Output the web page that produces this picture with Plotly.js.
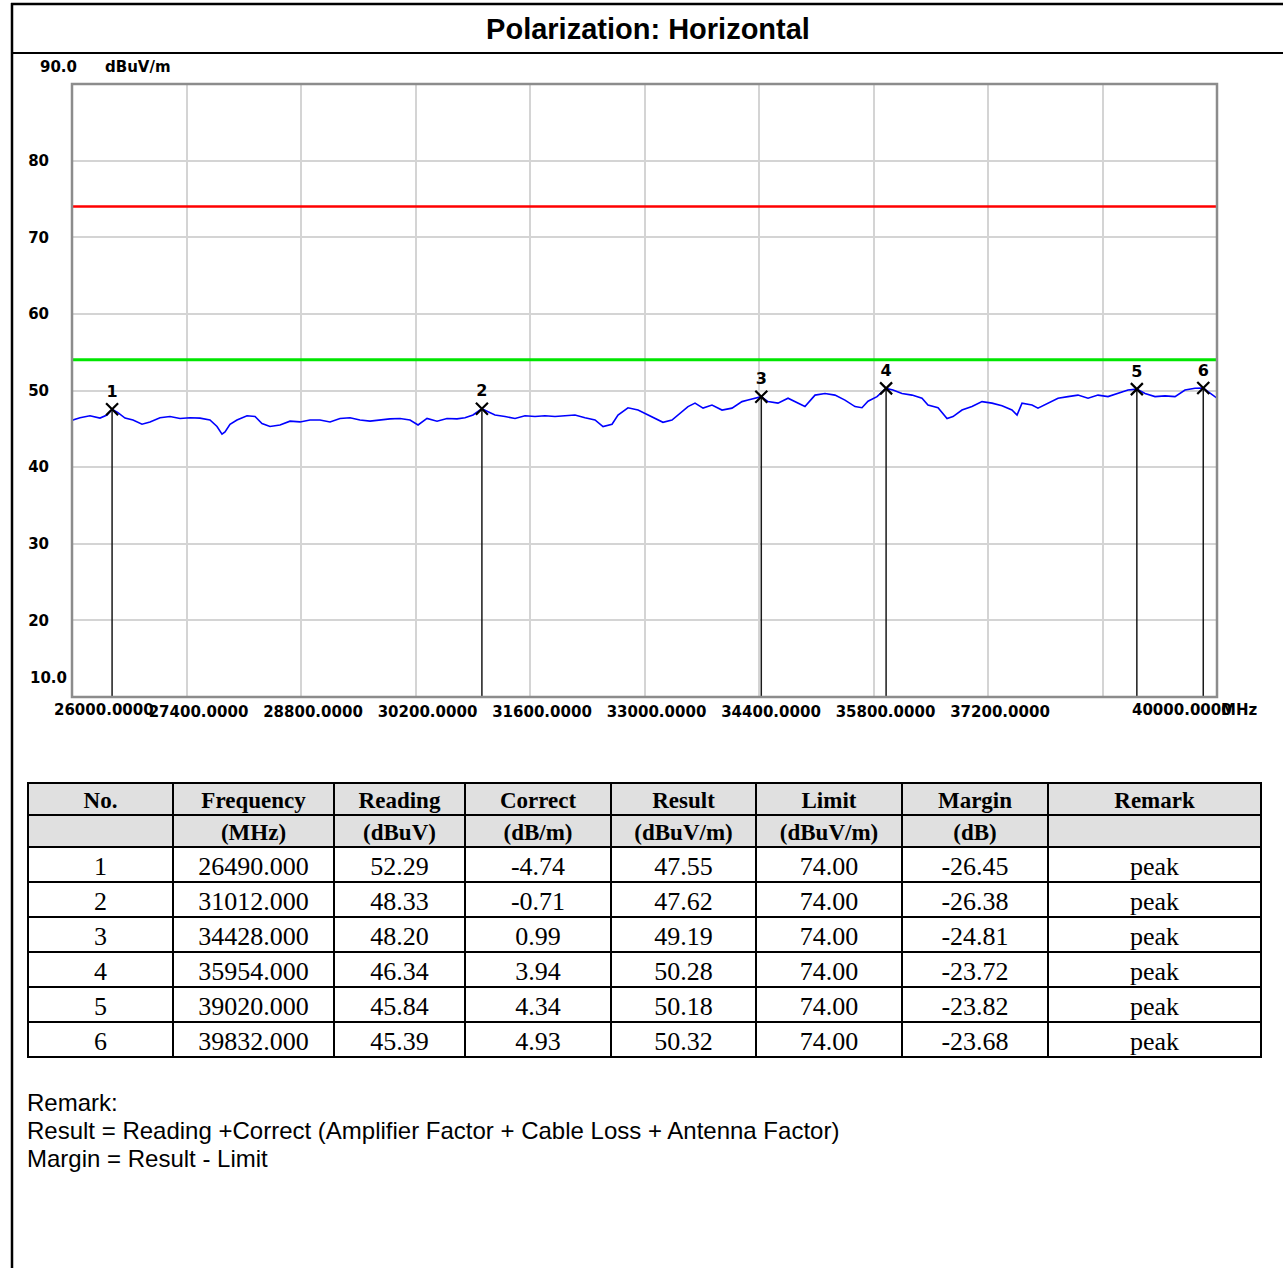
<!DOCTYPE html>
<html>
<head>
<meta charset="utf-8">
<script src="https://cdn.plot.ly/plotly-3.0.1.min.js"></script>
<style>
html,body{margin:0;padding:0;background:#fff;}
#chart{width:1283px;height:1268px;}
</style>
</head>
<body>
<div id="chart"></div>
<script>
// ---- spectrum trace (MHz, dBuV/m) ----
const traceFreq = [26000,26012,26098,26220,26342,26428,26490,26562,26648,26746,26856,26954,27076,27198,27321,27443,27565,27687,27773,27834,27871,27932,28017,28140,28238,28323,28421,28543,28666,28788,28910,29032,29155,29277,29399,29521,29644,29766,29888,30010,30133,30231,30341,30463,30585,30707,30805,30903,31012,31074,31172,31294,31417,31539,31661,31783,31906,32028,32150,32272,32395,32493,32603,32676,32798,32921,33031,33128,33226,33336,33459,33532,33618,33716,33825,33948,34070,34192,34266,34428,34510,34632,34755,34877,34962,35085,35207,35329,35451,35574,35659,35733,35843,35954,36038,36148,36271,36393,36466,36589,36699,36772,36882,37004,37127,37249,37371,37493,37555,37616,37738,37811,37934,38056,38178,38300,38423,38545,38667,38789,38912,39020,39120,39242,39364,39487,39609,39731,39832,39890,40000];
const traceLevel = [46.0,46.15,46.45,46.7,46.4,46.8,47.55,47.1,46.4,46.15,45.6,45.9,46.45,46.6,46.35,46.45,46.4,46.15,45.3,44.3,44.6,45.6,46.15,46.7,46.6,45.7,45.3,45.5,46.0,45.9,46.15,46.15,45.9,46.35,46.45,46.15,46.0,46.15,46.3,46.35,46.15,45.5,46.35,46.0,46.35,46.3,46.45,46.8,47.62,47.3,46.8,46.6,46.35,46.7,46.6,46.7,46.6,46.7,46.8,46.45,46.15,45.3,45.6,46.8,47.75,47.45,46.9,46.35,45.85,46.15,47.25,47.9,48.35,47.7,48.1,47.45,47.7,48.55,48.75,49.19,48.55,48.35,49.0,48.35,47.9,49.4,49.6,49.4,48.75,47.9,47.75,48.6,49.2,50.28,50.07,49.6,49.4,49.0,48.1,47.75,46.35,46.6,47.45,47.9,48.55,48.35,48.0,47.45,46.8,48.35,48.1,47.7,48.35,49.0,49.2,49.4,49.0,49.4,49.2,49.6,50.07,50.18,49.6,49.2,49.3,49.2,50.07,50.3,50.32,49.85,49.0];

// ---- limit lines ----
const limitFreq = [26000, 40000];
const limitRed = [74, 74];
const limitGreen = [54, 54];

// ---- marker table ----
const markerNo = [1, 2, 3, 4, 5, 6];
const markerFreq = [26490.000, 31012.000, 34428.000, 35954.000, 39020.000, 39832.000];
const markerReading = [52.29, 48.33, 48.20, 46.34, 45.84, 45.39];
const markerCorrect = [-4.74, -0.71, 0.99, 3.94, 4.34, 4.93];
const markerResult = [47.55, 47.62, 49.19, 50.28, 50.18, 50.32];
const markerLimit = [74.00, 74.00, 74.00, 74.00, 74.00, 74.00];
const markerMargin = [-26.45, -26.38, -24.81, -23.72, -23.82, -23.68];
const markerRemark = ['peak', 'peak', 'peak', 'peak', 'peak', 'peak'];

// ---- axis ticks ----
const xTickVals = [26000,27400,28800,30200,31600,33000,34400,35800,37200,38600,40000];
const xTickText = ['','27400.0000','28800.0000','30200.0000','31600.0000','33000.0000','34400.0000','35800.0000','37200.0000','',''];
const yTickVals = [10,20,30,40,50,60,70,80,90];
const yTickText = ['','20','30','40','50','60','70','80',''];

const headerTop = ['No.','Frequency','Reading','Correct','Result','Limit','Margin','Remark'];
const headerUnit = ['','(MHz)','(dBuV)','(dB/m)','(dBuV/m)','(dBuV/m)','(dB)',''];

const W = 1283, H = 1268;
const px = v => v / W;
const py = v => 1 - v / H;

const bitmapFont = 'DejaVu Sans, sans-serif';

// vertical marker drop lines built from marker arrays
const dropX = [], dropY = [];
markerFreq.forEach((f, i) => { dropX.push(f, f, null); dropY.push(markerResult[i], 10, null); });

const traces = [
  {x: limitFreq, y: limitRed, type: 'scatter', mode: 'lines', line: {color: '#ff0000', width: 2.5}, hoverinfo: 'skip'},
  {x: limitFreq, y: limitGreen, type: 'scatter', mode: 'lines', line: {color: '#00e600', width: 3}, hoverinfo: 'skip'},
  {x: dropX, y: dropY, type: 'scatter', mode: 'lines', line: {color: '#1a1a1a', width: 1.5}, hoverinfo: 'skip'},
  {x: traceFreq, y: traceLevel, type: 'scatter', mode: 'lines', line: {color: '#0000ff', width: 1.6}},
  {x: markerFreq, y: markerResult, type: 'scatter', mode: 'markers+text',
   text: markerNo.map(String), textposition: 'top center',
   textfont: {family: bitmapFont, size: 16, color: '#000', weight: 'bold'},
   marker: {symbol: 'x-thin', size: 12, line: {color: '#000', width: 2.2}, color: '#000'}},
  {type: 'table', domain: {x: [px(28), px(1261)], y: [py(1082), py(783)]},
   columnwidth: [145,161,131,146,145,146,146,213],
   header: {values: headerTop.map((t, i) => [t, headerUnit[i]]),
            align: 'center', height: 32,
            fill: {color: '#e0e0e0'}, line: {color: '#000', width: 2},
            font: {family: 'Liberation Serif, Times New Roman, serif', size: 23, color: '#000', weight: 'bold'}},
   cells: {values: [markerNo.map(String), markerFreq.map(v => v.toFixed(3)), markerReading.map(v => v.toFixed(2)),
                    markerCorrect.map(v => v.toFixed(2)), markerResult.map(v => v.toFixed(2)), markerLimit.map(v => v.toFixed(2)),
                    markerMargin.map(v => v.toFixed(2)), markerRemark],
           align: 'center', height: 35,
           fill: {color: '#ffffff'}, line: {color: '#000', width: 2},
           font: {family: 'Liberation Serif, Times New Roman, serif', size: 26, color: '#000'}}}
];

const lbl = {family: bitmapFont, size: 15, color: '#000', weight: 'bold'};
const remarkFont = {family: 'Liberation Sans, Arial, sans-serif', size: 24, color: '#000'};

const layout = {
  width: W, height: H,
  margin: {l: 0, r: 0, t: 0, b: 0, pad: 0},
  paper_bgcolor: '#ffffff', plot_bgcolor: '#ffffff',
  showlegend: false,
  title: {text: '<b>Polarization: Horizontal</b>', x: px(648), xanchor: 'center', y: py(29), yanchor: 'middle',
          yref: 'container', xref: 'container',
          font: {family: 'Liberation Sans, Arial, sans-serif', size: 29, color: '#000'}},
  xaxis: {domain: [px(72), px(1217)], range: [26000, 40000], tickmode: 'array', tickvals: xTickVals, ticktext: xTickText,
          showgrid: true, gridcolor: '#d4d4d4', gridwidth: 2, zeroline: false, ticks: '',
          ticklabelshift: 12, ticklabelstandoff: 4, tickfont: lbl, showline: false, fixedrange: true},
  yaxis: {domain: [py(697), py(84)], range: [10, 90], tickmode: 'array', tickvals: yTickVals, ticktext: yTickText,
          showgrid: true, gridcolor: '#d4d4d4', gridwidth: 2, zeroline: false, ticks: '',
          ticklabelstandoff: 22, tickfont: lbl, showline: false, fixedrange: true},
  shapes: [
    {type: 'rect', xref: 'x domain', yref: 'y domain', x0: 0, x1: 1, y0: 0, y1: 1, line: {color: '#8c8c8c', width: 2.5}},
    {type: 'line', xref: 'paper', yref: 'paper', x0: px(12), x1: px(12), y0: 0, y1: py(3), line: {color: '#000', width: 2.5}},
    {type: 'line', xref: 'paper', yref: 'paper', x0: px(11), x1: 1, y0: py(4), y1: py(4), line: {color: '#000', width: 2.5}},
    {type: 'line', xref: 'paper', yref: 'paper', x0: px(11), x1: 1, y0: py(53), y1: py(53), line: {color: '#000', width: 2}}
  ],
  annotations: [
    {text: '90.0', xref: 'paper', yref: 'paper', x: px(38), y: py(67), xanchor: 'left', yanchor: 'middle', showarrow: false, font: lbl},
    {text: 'dBuV/m', xref: 'paper', yref: 'paper', x: px(103), y: py(67), xanchor: 'left', yanchor: 'middle', showarrow: false, font: lbl},
    {text: '10.0', xref: 'paper', yref: 'paper', x: px(28), y: py(678), xanchor: 'left', yanchor: 'middle', showarrow: false, font: lbl},
    {text: '26000.0000', xref: 'x', yref: 'paper', x: 26000, xshift: 32, y: py(710), xanchor: 'center', yanchor: 'middle', showarrow: false, font: lbl},
    {text: '40000.0000', xref: 'x', yref: 'paper', x: 40000, xshift: -35, y: py(710), xanchor: 'center', yanchor: 'middle', showarrow: false, font: lbl},
    {text: 'MHz', xref: 'paper', yref: 'paper', x: px(1219), y: py(710), xanchor: 'left', yanchor: 'middle', showarrow: false, font: lbl},
    {text: 'Remark:', xref: 'paper', yref: 'paper', x: px(25), y: py(1102), xanchor: 'left', yanchor: 'middle', showarrow: false, font: remarkFont},
    {text: 'Result = Reading +Correct (Amplifier Factor + Cable Loss + Antenna Factor)', xref: 'paper', yref: 'paper', x: px(25), y: py(1130), xanchor: 'left', yanchor: 'middle', showarrow: false, font: remarkFont},
    {text: 'Margin = Result - Limit', xref: 'paper', yref: 'paper', x: px(25), y: py(1158), xanchor: 'left', yanchor: 'middle', showarrow: false, font: remarkFont}
  ]
};

Plotly.newPlot('chart', traces, layout, {displayModeBar: false, staticPlot: true});
</script>
</body>
</html>
